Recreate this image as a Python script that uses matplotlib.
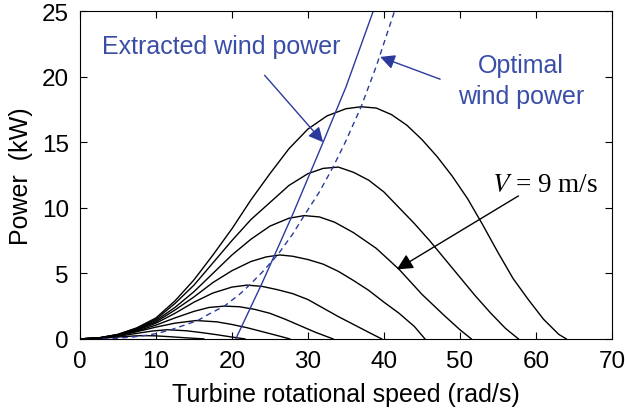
import matplotlib
matplotlib.use("Agg")
import matplotlib.pyplot as plt

plt.rcParams['font.family'] = ['Liberation Sans', 'DejaVu Sans']
plt.rcParams['mathtext.fontset'] = 'stix'

# turbine power curves, one per wind speed (lowest to highest)
x_v1 = [0, 2.5, 5, 7, 8.3, 10, 12, 14, 16.3]
p_v1 = [0, 0.04, 0.14, 0.22, 0.25, 0.23, 0.16, 0.08, 0]
x_v2 = [0, 2.5, 5, 7.5, 9.5, 11.5, 14, 16, 18, 20, 21.7]
p_v2 = [0, 0.05, 0.2, 0.42, 0.6, 0.7, 0.62, 0.48, 0.32, 0.14, 0]
x_v3 = [0, 2.5, 5, 7.5, 10, 12.5, 15.3, 18, 20, 22, 24, 26, 27.6]
p_v3 = [0, 0.06, 0.24, 0.55, 0.9, 1.2, 1.4, 1.3, 1.1, 0.85, 0.55, 0.25, 0]
x_v4 = [0, 2.5, 5, 7.5, 10, 12.5, 15, 17, 19, 21, 23, 25, 27, 29, 31, 33.3]
p_v4 = [0, 0.06, 0.26, 0.6, 1.05, 1.6, 2.1, 2.4, 2.5, 2.45, 2.25, 1.95, 1.5, 1.0, 0.5, 0]
x_v5 = [0, 2.5, 5, 7.5, 10, 12.5, 15, 17.5, 20, 22, 24, 26, 28, 30, 32, 34, 36, 38, 39.7]
p_v5 = [0, 0.07, 0.28, 0.65, 1.2, 1.95, 2.8, 3.5, 3.95, 4.1, 4.0, 3.75, 3.45, 3.0, 2.35,
        1.7, 1.1, 0.5, 0]
x_v6 = [0, 2.5, 5, 7.5, 10, 12.5, 15, 17.5, 20, 22.5, 24.5, 26.3, 28, 30, 32, 34, 36,
        38, 40, 42, 44, 45.4]
p_v6 = [0, 0.07, 0.3, 0.7, 1.3, 2.2, 3.2, 4.3, 5.2, 5.9, 6.25, 6.4, 6.3, 6.05, 5.7, 5.15,
        4.45, 3.7, 2.8, 1.95, 0.95, 0]
x_v7 = [0, 2.5, 5, 7.5, 10, 12.5, 15, 17.5, 20, 22.5, 25, 27.5, 29.5, 31.5, 33.5, 36,
        39, 42, 45, 48, 50, 51.5]
p_v7 = [0, 0.08, 0.32, 0.75, 1.4, 2.4, 3.6, 5.0, 6.4, 7.6, 8.6, 9.2, 9.4, 9.3, 8.9, 8.1,
        6.9, 5.3, 3.4, 1.75, 0.7, 0]
x_v8 = [0, 2.5, 5, 7.5, 10, 12.5, 15, 17.5, 20, 22.5, 25, 27.5, 30, 32, 34, 36, 38, 40,
        42, 44, 46, 48, 50, 52, 54, 56, 57.7]
p_v8 = [0, 0.08, 0.33, 0.8, 1.5, 2.7, 4.1, 5.8, 7.5, 9.1, 10.4, 11.7, 12.6, 13.0, 13.1,
        12.7, 12.1, 11.2, 10.0, 8.8, 7.5, 6.1, 4.7, 3.3, 2.0, 0.8, 0]
x_v9 = [0, 2.5, 5, 7.5, 10, 12.5, 15, 17.5, 20, 22.5, 25, 27.5, 30, 32.5, 35, 37, 39,
        41, 43, 45, 47, 49, 51, 53, 55, 57, 59, 61, 63, 64]
p_v9 = [0, 0.08, 0.35, 0.85, 1.6, 2.9, 4.5, 6.4, 8.4, 10.6, 12.6, 14.5, 16.0, 17.0,
        17.55, 17.7, 17.6, 17.1, 16.3, 15.2, 13.9, 12.4, 10.7, 8.7, 6.6, 4.6, 3.0, 1.5,
        0.35, 0]

curves_x = [x_v1, x_v2, x_v3, x_v4, x_v5, x_v6, x_v7, x_v8, x_v9]
curves_p = [p_v1, p_v2, p_v3, p_v4, p_v5, p_v6, p_v7, p_v8, p_v9]

# optimal (peak-tracking) power, dashed
x_opt = [3, 5, 7, 8.5, 10, 12, 14, 15.5, 17, 19, 21, 22.3, 24, 26, 28, 29.5, 31.5,
         33.3, 35, 37, 39, 41.4]
p_opt = [0, 0.05, 0.15, 0.25, 0.4, 0.7, 1.1, 1.4, 1.9, 2.5, 3.4, 4.1, 5.1, 6.4, 8.0,
         9.4, 11.2, 13.1, 15.1, 17.7, 20.8, 25]

# extracted power, solid
x_ext = [20.5, 24, 28, 32, 35, 38.6]
p_ext = [0, 4.3, 9.5, 15, 19.2, 25]

blue_line = '#2b3a9c'
blue_text = '#3a4ea8'

fig = plt.figure(figsize=(6.25, 4.14), dpi=100)
ax = fig.add_axes([0.128, 0.179, 0.851, 0.792])

for xs, ps in zip(curves_x, curves_p):
    ax.plot(xs, ps, color='black', lw=1.0)

ax.plot(x_opt, p_opt, color=blue_line, lw=1.0, ls=(0, (4, 3)))
ax.plot(x_ext, p_ext, color=blue_line, lw=1.0)

ax.set_xlim(0, 70)
ax.set_ylim(0, 25)
ax.set_xticks(range(0, 71, 10))
ax.set_yticks(range(0, 26, 5))
ax.tick_params(direction='in', length=5, top=True, right=True,
               labelsize=17.5, pad=8)
ax.set_xlabel('Turbine rotational speed (rad/s)', fontsize=18, labelpad=7)
ax.set_ylabel('Power  (kW)', fontsize=18, labelpad=6)

ax.text(18.6, 22.3, 'Extracted wind power', color=blue_text, fontsize=18,
        ha='center', va='center')
ax.annotate('', xy=(32.0, 15.0), xytext=(24.3, 20.1),
            arrowprops=dict(arrowstyle='-|>', color=blue_line, lw=1.0,
                            mutation_scale=22, shrinkA=0, shrinkB=0))

ax.text(58.0, 20.9, 'Optimal', color=blue_text, fontsize=18,
        ha='center', va='center')
ax.text(58.0, 18.5, 'wind power', color=blue_text, fontsize=18,
        ha='center', va='center')
ax.annotate('', xy=(39.5, 21.5), xytext=(47.4, 19.8),
            arrowprops=dict(arrowstyle='-|>', color=blue_line, lw=1.0,
                            mutation_scale=22, shrinkA=0, shrinkB=0))

ax.text(54.2, 11.3, '$V$ = 9 m/s', fontsize=19.5, family='Liberation Serif',
        ha='left', va='baseline')
ax.annotate('', xy=(41.7, 5.3), xytext=(57.7, 10.9),
            arrowprops=dict(arrowstyle='-|>', color='black', lw=1.0,
                            mutation_scale=24, shrinkA=0, shrinkB=0))

fig.savefig('out.png', dpi=100)
